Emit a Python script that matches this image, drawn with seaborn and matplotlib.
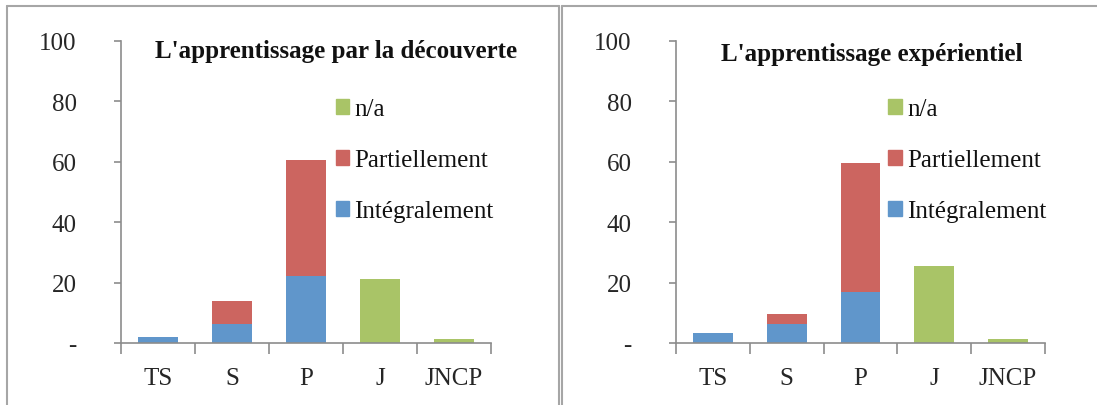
import matplotlib
matplotlib.use("Agg")
import matplotlib.pyplot as plt
from matplotlib.patches import Patch
from matplotlib.lines import Line2D
from matplotlib.ticker import FixedLocator
import seaborn as sns
import numpy as np

# données
categories = ["TS", "S", "P", "J", "JNCP"]
titles = ["L'apprentissage par la découverte", "L'apprentissage expérientiel"]
integralement = [[2.1, 6.3, 22.1, 0, 0], [3.3, 6.3, 16.8, 0, 0]]
partiellement = [[0, 7.5, 38.5, 0, 0], [0, 3.3, 42.7, 0, 0]]
na_values = [[0, 0, 0, 21.1, 1.2], [0, 0, 0, 25.5, 1.2]]
y_ticks = [0, 20, 40, 60, 80, 100]
y_labels = ["-", "20", "40", "60", "80", "100"]
legend_labels = ["n/a", "Partiellement", "Intégralement"]

blue = "#6096cb"
red = "#cc6560"
green = "#a9c467"
axis_gray = "#8c8c8c"

sns.set_theme(style="white")
plt.rcParams["font.family"] = ["Liberation Serif", "DejaVu Serif"]
plt.rcParams["text.color"] = "#111111"

W, H = 1097, 406
fig = plt.figure(figsize=(W / 100, H / 100), dpi=100)

# positions des axes (pixels)
axes_px = [(121, 370, 0.58, 0.58, 0.97), (676, 369, 0.53, 0.575, 0.96)]

for i, (x0, w, tx, lx, ty) in enumerate(axes_px):
    ax = fig.add_axes([x0 / W, (H - 344) / H, w / W, 302 / H])
    integ = np.array(integralement[i])
    part = np.array(partiellement[i])
    na = np.array(na_values[i])

    # empilement : on trace les cumuls du plus haut au plus bas
    sns.barplot(x=categories, y=integ + part + na, color=green, width=0.54,
                saturation=1, ax=ax)
    sns.barplot(x=categories, y=integ + part, color=red, width=0.54,
                saturation=1, ax=ax)
    sns.barplot(x=categories, y=integ, color=blue, width=0.54,
                saturation=1, ax=ax)
    for p in ax.patches:
        p.set_linewidth(0)

    ax.set_xlim(-0.5, 4.5)
    ax.set_ylim(0, 100)
    sns.despine(ax=ax)
    for s in ["left", "bottom"]:
        ax.spines[s].set_color(axis_gray)
        ax.spines[s].set_linewidth(1.2)

    ax.set_yticks(y_ticks)
    ax.set_yticklabels(y_labels, fontsize=18)
    ax.tick_params(axis="y", which="major", left=True, length=5, width=1.2,
                   color=axis_gray, pad=27)
    ax.xaxis.set_minor_locator(FixedLocator(np.arange(-0.5, 5, 1)))
    ax.tick_params(axis="x", which="major", bottom=True, length=0, pad=17,
                   labelsize=18)
    ax.tick_params(axis="x", which="minor", bottom=True, length=8, width=1.2,
                   color=axis_gray)
    ax.set_xlabel("")
    ax.set_ylabel("")

    ax.text(tx, ty, titles[i], transform=ax.transAxes, ha="center",
            va="center", fontsize=18, fontweight="bold")

    handles = [Patch(color=green), Patch(color=red), Patch(color=blue)]
    ax.legend(handles, legend_labels, loc="upper left",
              bbox_to_anchor=(lx, 0.81), frameon=False, fontsize=18,
              handlelength=0.55, handleheight=0.55, handletextpad=0.2,
              labelspacing=1.15, borderpad=0, borderaxespad=0)

# cadres des deux panneaux
def px_line(xs, ys):
    fig.add_artist(Line2D([x / W for x in xs], [1 - y / H for y in ys],
                          color="#a6a6a6", linewidth=1.5))

px_line([7, 7], [7, 406])
px_line([7, 559], [7, 7])
px_line([559, 559], [7, 406])
px_line([562, 562], [7, 406])
px_line([562, 1097], [7, 7])

fig.savefig("out.png", dpi=100)
